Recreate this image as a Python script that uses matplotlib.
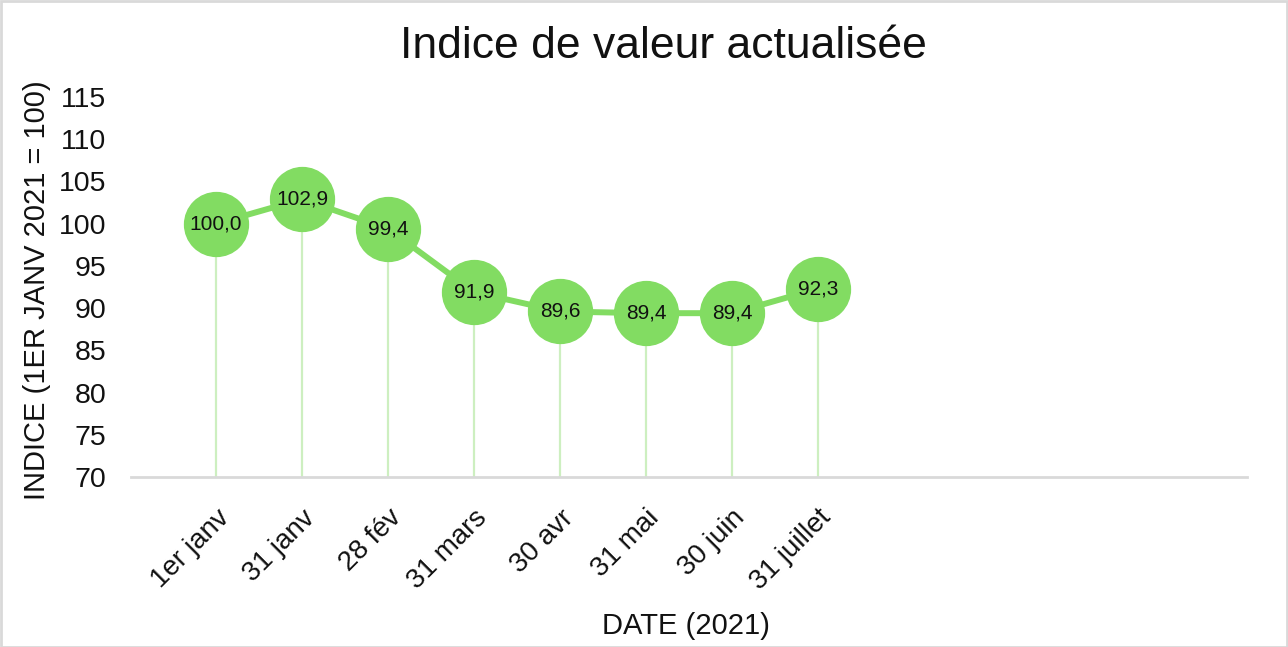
import matplotlib
matplotlib.use("Agg")
import matplotlib.pyplot as plt
from matplotlib.patches import Rectangle

plt.rcParams['font.family'] = ['Liberation Sans', 'DejaVu Sans']

dates = ["1er janv", "31 janv", "28 fév", "31 mars", "30 avr", "31 mai", "30 juin", "31 juillet"]
values = [100.0, 102.9, 99.4, 91.9, 89.6, 89.4, 89.4, 92.3]
yticks = [70, 75, 80, 85, 90, 95, 100, 105, 110, 115]
title = "Indice de valeur actualisée"
xlabel = "DATE (2021)"
ylabel = "INDICE (1ER JANV 2021 = 100)"

W, H = 1288, 647
fig = plt.figure(figsize=(W / 100, H / 100), dpi=100)
fig.patches.append(Rectangle((0.5 / W, 0.5 / H), 1 - 1.5 / W, 1 - 1.5 / H, transform=fig.transFigure,
                             fill=False, edgecolor="#D9D9D9", linewidth=2))

ax = fig.add_axes([131 / W, 1 - 477 / H, (1247 - 131) / W, (477 - 97) / H])
x = list(range(len(dates)))
green = "#82DC62"
stem = "#CDEFC0"
txt = "#111111"

ax.vlines(x, 70, values, colors=stem, linewidth=1.6, zorder=1)
ax.plot(x, values, color=green, linewidth=4.3, zorder=2)
ax.plot(x, values, linestyle="none", marker="o", markersize=46, markerfacecolor=green,
        markeredgecolor=green, zorder=3)
for xi, v in zip(x, values):
    ax.text(xi, v, f"{v:.1f}".replace(".", ","), ha="center", va="center", fontsize=15,
            color=txt, zorder=4)

ax.set_xlim(-0.99, 11.99)
ax.set_ylim(70, 115)
ax.set_yticks(yticks)
ax.set_yticklabels([str(t) for t in yticks], fontsize=20.5, color=txt)
ax.set_xticks(x)
ax.set_xticklabels(dates, fontsize=20, rotation=45, ha="right", va="top",
                   rotation_mode="anchor", color=txt)
ax.tick_params(axis="both", length=0)
ax.tick_params(axis="x", pad=20)
ax.tick_params(axis="y", pad=18)

for s in ["top", "right", "left"]:
    ax.spines[s].set_visible(False)
ax.spines["bottom"].set_color("#D9D9D9")
ax.spines["bottom"].set_linewidth(2)
ax.set_facecolor("none")

fig.text(663 / W, 1 - 47 / H, title, ha="center", va="center", fontsize=32, color=txt)
fig.text(686 / W, 1 - 626 / H, xlabel, ha="center", va="center", fontsize=21, color=txt)
fig.text(37 / W, 1 - 290 / H, ylabel, ha="center", va="center", rotation=90, fontsize=21,
         color=txt)

fig.savefig("out.png", dpi=100)
